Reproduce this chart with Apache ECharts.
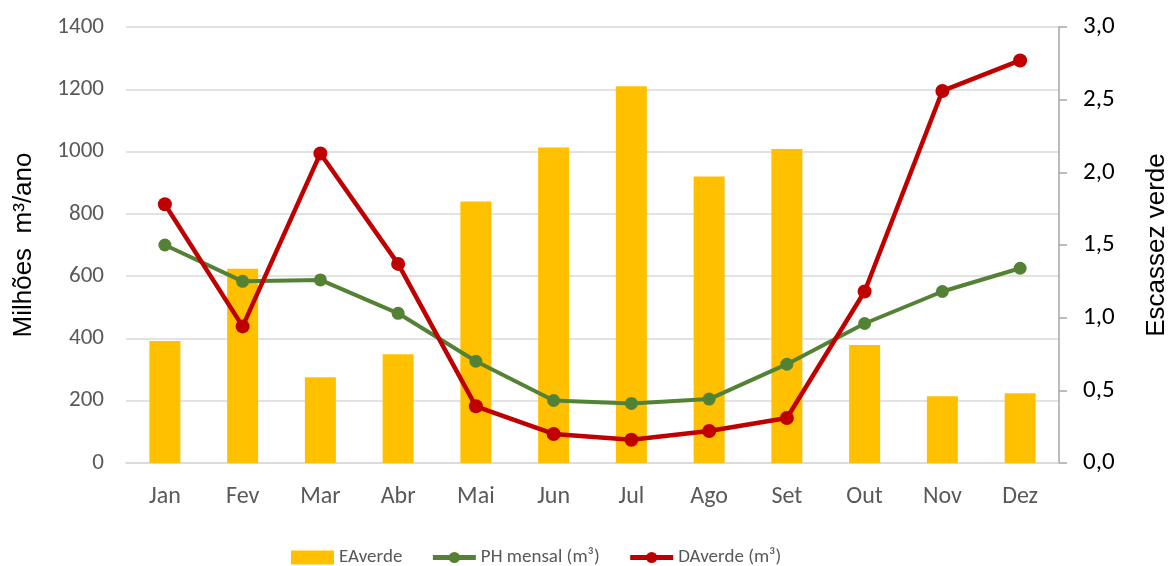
<!DOCTYPE html>
<html>
<head>
<meta charset="utf-8">
<script src="https://cdn.jsdelivr.net/npm/echarts@6/dist/echarts.min.js"></script>
<style>
html,body{margin:0;padding:0;background:#fff;}
#chart{width:1169px;height:566px;}
</style>
</head>
<body>
<div id="chart"></div>
<script>
const months = ['Jan','Fev','Mar','Abr','Mai','Jun','Jul','Ago','Set','Out','Nov','Dez'];
const eaVerde = [392, 624, 275, 349, 840, 1013, 1210, 920, 1008, 379, 214, 224];
const phMensal = [1.50, 1.25, 1.26, 1.03, 0.70, 0.43, 0.41, 0.44, 0.68, 0.96, 1.18, 1.34];
const daVerde = [1.78, 0.94, 2.13, 1.37, 0.39, 0.20, 0.16, 0.22, 0.31, 1.18, 2.56, 2.77];
const leftTicks = {min: 0, max: 1400, interval: 200};
const rightTicks = {min: 0, max: 3, interval: 0.5};

const font = 'Carlito, "Liberation Sans", Arial, sans-serif';
const titleFont = '"Liberation Sans", Arial, sans-serif';
const chart = echarts.init(document.getElementById('chart'));
chart.setOption({
  animation: false,
  textStyle: {fontFamily: font},
  grid: {left: 126, right: 110, top: 27, bottom: 103, containLabel: false, outerBoundsMode: 'none'},
  legend: {
    top: 543,
    left: 286,
    itemWidth: 43,
    itemHeight: 14,
    itemGap: 28,
    textStyle: {fontSize: 19, color: '#595959', fontFamily: font},
    data: [
      {name: 'EAverde', icon: 'rect'},
      {name: 'PH mensal (m³)', lineStyle: {width: 5}},
      {name: 'DAverde (m³)', lineStyle: {width: 5}}
    ]
  },
  xAxis: {
    type: 'category',
    data: months,
    boundaryGap: true,
    axisLine: {show: true, lineStyle: {color: '#d9d9d9', width: 1.5}},
    axisTick: {show: false},
    axisLabel: {fontSize: 24, color: '#595959', margin: 22}
  },
  yAxis: [{
    type: 'value',
    min: leftTicks.min, max: leftTicks.max, interval: leftTicks.interval,
    name: 'Milhões  m³/ano',
    nameLocation: 'middle',
    nameGap: 89,
    nameTextStyle: {fontSize: 26, color: '#000', fontFamily: titleFont},
    axisLine: {show: false},
    axisTick: {show: false},
    axisLabel: {fontSize: 23, color: '#595959', margin: 22, formatter: v => String(v)},
    splitLine: {lineStyle: {color: '#d9d9d9', width: 1.5}}
  }, {
    type: 'value',
    min: rightTicks.min, max: rightTicks.max, interval: rightTicks.interval,
    position: 'right',
    name: 'Escassez verde',
    nameLocation: 'middle',
    nameGap: 85,
    nameRotate: 90,
    nameTextStyle: {fontSize: 26, color: '#000', fontFamily: titleFont},
    axisLine: {show: true, lineStyle: {color: '#a6a6a6', width: 1.5}},
    axisTick: {show: true, length: 8, inside: false, lineStyle: {color: '#a6a6a6', width: 1.5}},
    axisLabel: {fontSize: 25, color: '#000', margin: 24,
      formatter: v => v.toFixed(1).replace('.', ',')},
    splitLine: {show: false}
  }],
  series: [{
    name: 'EAverde',
    type: 'bar',
    data: eaVerde,
    barWidth: 31,
    itemStyle: {color: '#FFC000'},
    yAxisIndex: 0
  }, {
    name: 'PH mensal (m³)',
    type: 'line',
    data: phMensal,
    yAxisIndex: 1,
    symbol: 'circle',
    symbolSize: 13,
    lineStyle: {color: '#548235', width: 4},
    itemStyle: {color: '#548235'}
  }, {
    name: 'DAverde (m³)',
    type: 'line',
    data: daVerde,
    yAxisIndex: 1,
    symbol: 'circle',
    symbolSize: 14,
    lineStyle: {color: '#C00000', width: 4.5},
    itemStyle: {color: '#C00000'}
  }]
});
</script>
</body>
</html>
